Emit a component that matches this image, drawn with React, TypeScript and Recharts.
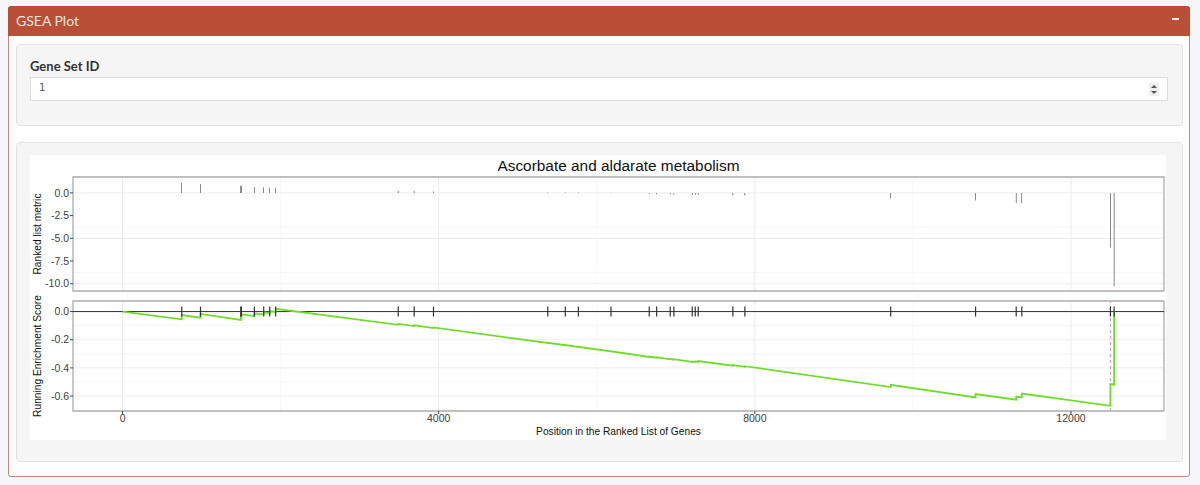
import React from 'react';
import {
  ComposedChart,
  Bar,
  Line,
  Scatter,
  XAxis,
  YAxis,
  CartesianGrid,
  ReferenceLine,
  ReferenceArea,
} from 'recharts';

// positions of the gene set members in the ranked list
const hitPositions = [
  749, 986, 1496, 1504, 1668, 1786, 1862, 1937, 3488, 3690, 3934, 5380, 5602, 5767, 6180,
  6664, 6758, 6930, 6976, 7208, 7246, 7284, 7722, 7874, 9719, 10793, 11307, 11378, 12499, 12546,
];
// ranked list metric at each hit
const rankedMetric = [
  1.13, 0.96, 0.78, 0.76, 0.66, 0.62, 0.58, 0.58, 0.25, 0.2, 0.15, 0.05, 0.04, 0.04, 0.02,
  -0.12, -0.14, -0.16, -0.17, -0.2, -0.2, -0.21, -0.28, -0.3, -0.6, -0.85, -1.1, -1.1, -6.0, -10.3,
];
// running enrichment score just before / just after each hit
const esBeforeHit = [
  -0.055, -0.044, -0.06, -0.041, -0.032, -0.021, -0.011, -0.002, -0.094, -0.103, -0.117, -0.223,
  -0.239, -0.251, -0.283, -0.322, -0.327, -0.339, -0.341, -0.357, -0.357, -0.357, -0.384, -0.392,
  -0.536, -0.61, -0.626, -0.61, -0.669, -0.519,
];
const esAfterHit = [
  -0.025, -0.017, -0.04, -0.02, -0.012, -0.005, 0.004, 0.02, -0.088, -0.098, -0.113, -0.222,
  -0.238, -0.25, -0.282, -0.319, -0.325, -0.337, -0.338, -0.354, -0.354, -0.351, -0.38, -0.388,
  -0.52, -0.586, -0.604, -0.582, -0.515, 0.0,
];
const peakPosition = 12499;

const xDomain = [-627, 13177];
const xMajor = [0, 4000, 8000, 12000];
const xMinor = [2000, 6000, 10000];
const metricDomain = [-10.8, 1.75];
const metricTicks = [-10, -7.5, -5, -2.5, 0];
const metricMinor = [-8.75, -6.25, -3.75, -1.25, 1.25];
const esDomain = [-0.706, 0.075];
const esTicks = [-0.6, -0.4, -0.2, 0];
const esMinor = [-0.5, -0.3, -0.1];

const metricData = hitPositions.map((pos, i) => ({ pos, metric: rankedMetric[i] }));
const esData = [{ pos: 0, es: 0 }];
hitPositions.forEach((pos, i) => {
  esData.push({ pos, es: esBeforeHit[i] });
  esData.push({ pos, es: esAfterHit[i] });
});
const hitData = hitPositions.map((pos) => ({ pos, es: 0 }));

const plotFont = '"Liberation Sans", Arial, Helvetica, sans-serif';
const uiFont = 'Lato, "Open Sans", sans-serif';
const tickStyle = { fontSize: 10.5, fill: '#3d3d3d', fontFamily: plotFont };

const YTitle = ({ viewBox, text }: any) => (
  <text
    x={7}
    y={viewBox.y + viewBox.height / 2}
    transform={`rotate(-90, 7, ${viewBox.y + viewBox.height / 2})`}
    textAnchor="middle"
    dominantBaseline="central"
    fontSize={10.2}
    fontFamily={plotFont}
    fill="#111"
  >
    {text}
  </text>
);

const XTitle = ({ viewBox }: any) => (
  <text
    x={viewBox.x + viewBox.width / 2}
    y={viewBox.y + 20}
    textAnchor="middle"
    dominantBaseline="central"
    fontSize={10.2}
    fontFamily={plotFont}
    fill="#111"
  >
    Position in the Ranked List of Genes
  </text>
);

const HitTick = (props: any) => (
  <line x1={props.cx} x2={props.cx} y1={props.cy - 5} y2={props.cy + 5} stroke="#333" strokeWidth={1.2} />
);

function Spinner() {
  return (
    <svg width={10} height={13} style={{ position: 'absolute', left: 1149, top: 83 }}>
      <rect width={10} height={13} fill="#eeeeee" />
      <polygon points="2,5 8,5 5,2" fill="#555" />
      <polygon points="2,8 8,8 5,11" fill="#555" />
    </svg>
  );
}

export default function App() {
  return (
    <div style={{ position: 'absolute', left: 0, top: 0, width: 1200, height: 485, background: '#f4f6f9', overflow: 'hidden' }}>
      {/* box */}
      <div
        style={{
          position: 'absolute', left: 8, top: 6, width: 1180, height: 469,
          background: '#fff', border: '1px solid #c98878', borderRadius: 3,
        }}
      />
      <div
        style={{
          position: 'absolute', left: 8, top: 6, width: 1182, height: 30,
          background: '#b94f37', borderRadius: '3px 3px 0 0',
        }}
      >
        <div style={{ position: 'absolute', left: 8, top: 6, fontFamily: uiFont, fontSize: 14, color: '#f6e4df' }}>
          GSEA Plot
        </div>
        <div style={{ position: 'absolute', left: 1164, top: 12, width: 7, height: 2, background: '#f6e4df' }} />
      </div>

      {/* well with the input */}
      <div
        style={{
          position: 'absolute', left: 16, top: 44, width: 1165, height: 80,
          background: '#f5f5f5', border: '1px solid #e3e3e3', borderRadius: 4,
        }}
      />
      <div style={{ position: 'absolute', left: 30, top: 58, fontFamily: uiFont, fontWeight: 700, fontSize: 13, color: '#333' }}>
        Gene Set ID
      </div>
      <div
        style={{
          position: 'absolute', left: 30, top: 77, width: 1136, height: 22,
          background: '#fff', border: '1px solid #dddddd',
        }}
      />
      <div style={{ position: 'absolute', left: 39, top: 82, fontFamily: '"DejaVu Sans Mono", monospace', fontSize: 10, color: '#555' }}>
        1
      </div>
      <Spinner />

      {/* well with the plot */}
      <div
        style={{
          position: 'absolute', left: 16, top: 142, width: 1165, height: 318,
          background: '#f5f5f5', border: '1px solid #e3e3e3', borderRadius: 4,
        }}
      />
      <div style={{ position: 'absolute', left: 30, top: 155, width: 1136, height: 285, background: '#fff' }} />
      <div
        style={{
          position: 'absolute', left: 73, top: 157, width: 1091, textAlign: 'center',
          fontFamily: plotFont, fontSize: 15.4, color: '#111',
        }}
      >
        Ascorbate and aldarate metabolism
      </div>

      <div style={{ position: 'absolute', left: 30, top: 170 }}>
        <ComposedChart width={1136} height={125} data={metricData} margin={{ top: 7, right: 2, bottom: 4, left: 0 }}>
          <CartesianGrid verticalValues={xMinor} horizontalValues={metricMinor} stroke="#f2f3f6" strokeWidth={0.7} />
          <CartesianGrid verticalValues={xMajor} horizontalValues={metricTicks} stroke="#ebecf0" strokeWidth={1} />
          <XAxis type="number" dataKey="pos" domain={xDomain} allowDataOverflow hide />
          <YAxis
            type="number"
            domain={metricDomain}
            allowDataOverflow
            ticks={metricTicks}
            width={43}
            tick={tickStyle}
            tickFormatter={(v: number) => v.toFixed(1)}
            tickSize={3}
            tickMargin={1}
            tickLine={{ stroke: '#444' }}
            axisLine={false}
            label={{ content: (p: any) => <YTitle {...p} text="Ranked list metric" /> }}
          />
          <Bar dataKey="metric" barSize={1.6} fill="#333" isAnimationActive={false} />
          <ReferenceArea
            x1={xDomain[0]} x2={xDomain[1]} y1={metricDomain[0]} y2={metricDomain[1]}
            fill="none" stroke="#acacac" strokeWidth={1.3} fillOpacity={0} ifOverflow="visible"
          />
        </ComposedChart>
      </div>

      <div style={{ position: 'absolute', left: 30, top: 294 }}>
        <ComposedChart width={1136} height={146} margin={{ top: 7, right: 2, bottom: 0, left: 0 }}>
          <CartesianGrid verticalValues={xMinor} horizontalValues={esMinor} stroke="#f2f3f6" strokeWidth={0.7} />
          <CartesianGrid verticalValues={xMajor} horizontalValues={esTicks} stroke="#ebecf0" strokeWidth={1} />
          <XAxis
            type="number"
            dataKey="pos"
            domain={xDomain}
            allowDataOverflow
            ticks={xMajor}
            height={29}
            tick={tickStyle}
            tickSize={3}
            tickMargin={1}
            tickLine={{ stroke: '#444' }}
            axisLine={false}
            label={{ content: (p: any) => <XTitle {...p} /> }}
          />
          <YAxis
            type="number"
            domain={esDomain}
            allowDataOverflow
            ticks={esTicks}
            width={43}
            tick={tickStyle}
            tickFormatter={(v: number) => v.toFixed(1)}
            tickSize={3}
            tickMargin={1}
            tickLine={{ stroke: '#444' }}
            axisLine={false}
            label={{ content: (p: any) => <YTitle {...p} text="Running Enrichment Score" /> }}
          />
          <ReferenceLine y={0} stroke="#333" strokeWidth={1} />
          <ReferenceLine x={peakPosition} stroke="#dfa5ab" strokeWidth={1.2} strokeDasharray="3 3" />
          <Scatter data={hitData} dataKey="es" shape={HitTick} isAnimationActive={false} />
          <Line
            data={esData}
            dataKey="es"
            type="linear"
            stroke="#6edc28"
            strokeWidth={1.8}
            dot={false}
            activeDot={false}
            isAnimationActive={false}
          />
          <ReferenceArea
            x1={xDomain[0]} x2={xDomain[1]} y1={esDomain[0]} y2={esDomain[1]}
            fill="none" stroke="#acacac" strokeWidth={1.3} fillOpacity={0} ifOverflow="visible"
          />
        </ComposedChart>
      </div>
    </div>
  );
}
